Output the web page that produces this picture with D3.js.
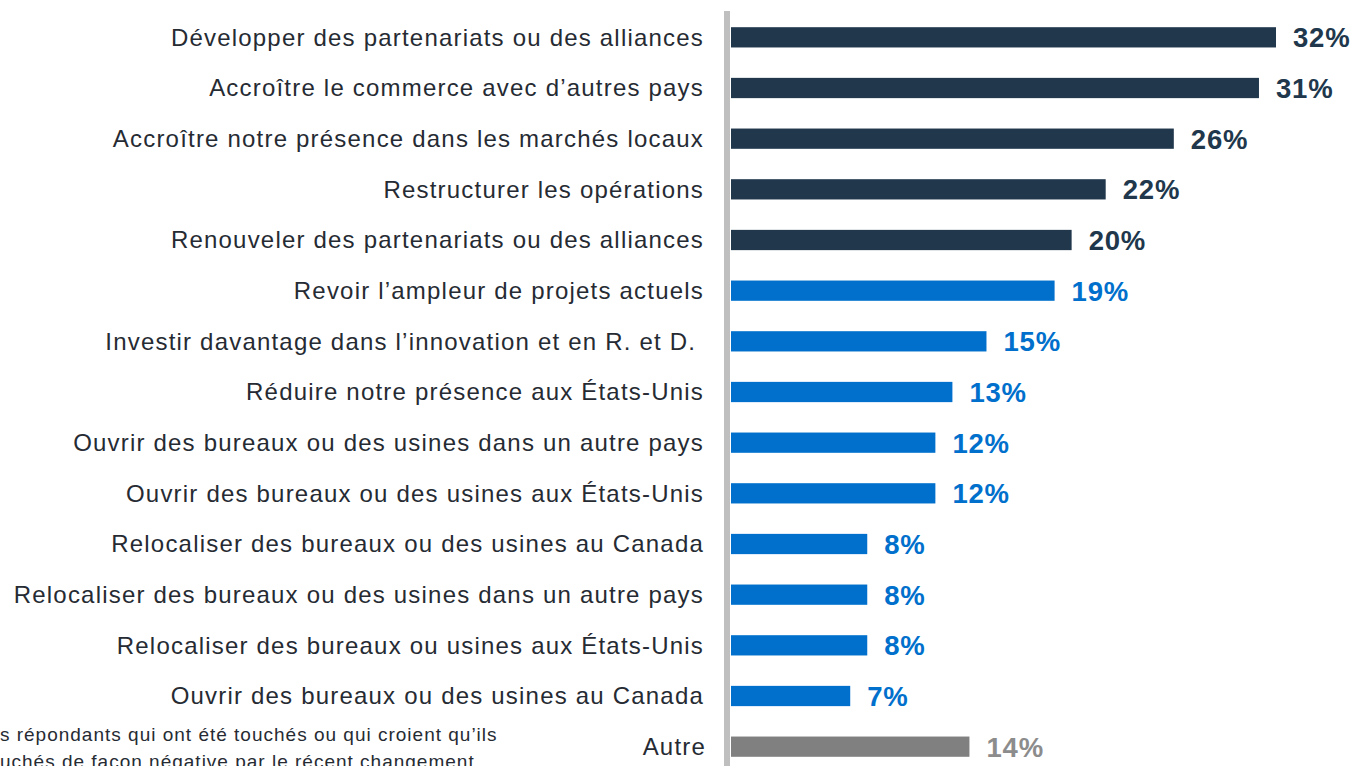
<!DOCTYPE html>
<html>
<head>
<meta charset="utf-8">
<script src="https://cdn.jsdelivr.net/npm/d3@7.9.0/dist/d3.min.js"></script>
<style>
  html, body { margin: 0; padding: 0; background: #fff; overflow: hidden; }
  svg { display: block; font-family: "Liberation Sans", Arial, sans-serif; }
</style>
</head>
<body>
<div id="chart"></div>
<script>
const categories = [
  "Développer des partenariats ou des alliances",
  "Accroître le commerce avec d’autres pays",
  "Accroître notre présence dans les marchés locaux",
  "Restructurer les opérations",
  "Renouveler des partenariats ou des alliances",
  "Revoir l’ampleur de projets actuels",
  "Investir davantage dans l’innovation et en R. et D. ",
  "Réduire notre présence aux États-Unis",
  "Ouvrir des bureaux ou des usines dans un autre pays",
  "Ouvrir des bureaux ou des usines aux États-Unis",
  "Relocaliser des bureaux ou des usines au Canada",
  "Relocaliser des bureaux ou des usines dans un autre pays",
  "Relocaliser des bureaux ou usines aux États-Unis",
  "Ouvrir des bureaux ou des usines au Canada",
  "Autre"
];
const values = [32, 31, 26, 22, 20, 19, 15, 13, 12, 12, 8, 8, 8, 7, 14];
// group: 0 = top five (navy), 1 = the rest (blue), 2 = other (grey)
const groups = [0, 0, 0, 0, 0, 1, 1, 1, 1, 1, 1, 1, 1, 1, 2];
const footnote = [
  "Base : les répondants qui ont été touchés ou qui croient qu’ils",
  "seront touchés de façon négative par le récent changement"
];

const width = 1354;
const height = 766;
const barColors = ["#20374c", "#0070cc", "#808080"];
const labelColors = ["#20374c", "#0070cc", "#8c8c8c"];

const data = categories.map((c, i) => ({ name: c, value: values[i], group: groups[i] }));

const svg = d3.select("#chart")
  .append("svg")
  .attr("width", width)
  .attr("height", height);

const yScale = d3.scaleBand()
  .domain(categories)
  .range([12, 772])
  .paddingInner(0.6)
  .paddingOuter(0.3);

const xScale = d3.scaleLinear()
  .domain([0, 32])
  .range([731, 1276]);

// vertical axis line
svg.append("line")
  .attr("x1", 727)
  .attr("x2", 727)
  .attr("y1", 11)
  .attr("y2", height)
  .attr("stroke", "#bfbfbf")
  .attr("stroke-width", 6);

svg.append("g")
  .selectAll("rect")
  .data(data)
  .join("rect")
  .attr("x", xScale(0))
  .attr("y", d => yScale(d.name))
  .attr("width", d => xScale(d.value) - xScale(0))
  .attr("height", yScale.bandwidth())
  .attr("fill", d => barColors[d.group]);

svg.append("g")
  .selectAll("text")
  .data(data)
  .join("text")
  .attr("x", d => xScale(d.value) + 17)
  .attr("y", d => yScale(d.name) + yScale.bandwidth() / 2)
  .attr("dy", "0.36em")
  .attr("font-size", 27.5)
  .attr("font-weight", "bold")
  .attr("letter-spacing", 0.8)
  .attr("fill", d => labelColors[d.group])
  .text(d => d.value + "%");

svg.append("g")
  .selectAll("text")
  .data(data)
  .join("text")
  .attr("x", d => d.group === 2 ? 706 : 704)
  .attr("y", d => yScale(d.name) + yScale.bandwidth() / 2)
  .attr("dy", "0.35em")
  .attr("text-anchor", "end")
  .attr("font-size", 24)
  .attr("letter-spacing", 1.2)
  .attr("fill", "#262b33")
  .style("white-space", "pre")
  .text(d => d.name);

svg.append("g")
  .selectAll("text")
  .data(footnote)
  .join("text")
  .attr("x", -83)
  .attr("y", (d, i) => 741 + i * 27)
  .attr("font-size", 19)
  .attr("letter-spacing", 1)
  .attr("fill", "#262b33")
  .text(d => d);
</script>
</body>
</html>
